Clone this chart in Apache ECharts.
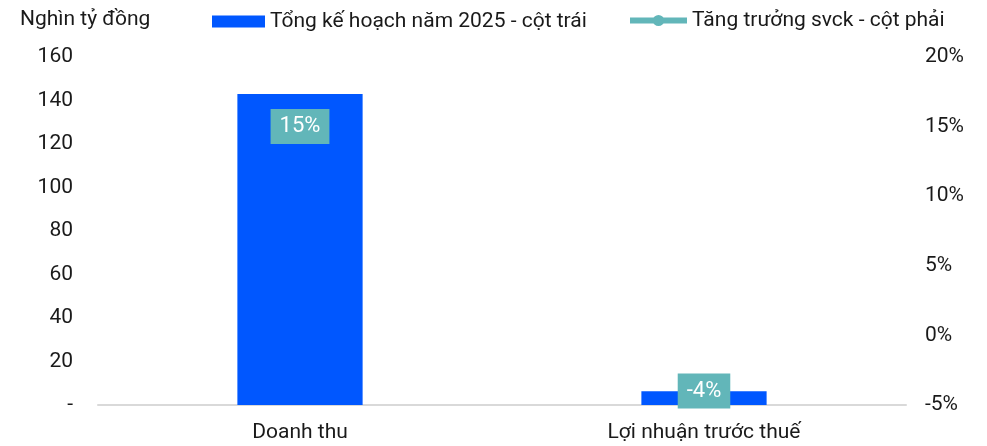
<!DOCTYPE html>
<html>
<head>
<meta charset="utf-8">
<script src="https://cdn.jsdelivr.net/npm/echarts@6/dist/echarts.min.js"></script>
<style>
  html, body { margin: 0; padding: 0; background: #fff; }
  #chart { width: 987px; height: 446px; }
</style>
</head>
<body>
<div id="chart"></div>
<script>
// data
const categories = ["Doanh thu", "Lợi nhuận trước thuế"];
const planValues = [143, 6.3];      // nghìn tỷ đồng
const growthValues = [15, -4];      // %
const barName = "Tổng kế hoạch năm 2025 - cột trái";
const lineName = "Tăng trưởng svck - cột phải";

const barColor = "#0057FF";
const lineColor = "#62B6B9";
const textColor = "#1a1a1a";
const font = "Roboto, 'Noto Sans', sans-serif";

const chart = echarts.init(document.getElementById("chart"), null, { renderer: "canvas" });

const option = {
  animation: false,
  textStyle: { fontFamily: font },
  title: {
    text: "Nghìn tỷ đồng",
    left: 15,
    top: 4,
    textStyle: { fontSize: 21, fontWeight: "normal", color: textColor, fontFamily: font }
  },
  legend: [
    {
      data: [{ name: barName, icon: "rect" }],
      left: 212,
      top: 11,
      padding: 0,
      itemWidth: 53,
      itemHeight: 12,
      textStyle: { fontSize: 21, color: textColor, fontFamily: font }
    },
    {
      data: [{
        name: lineName,
        itemStyle: { opacity: 1, color: lineColor },
        lineStyle: { opacity: 1, width: 6, color: lineColor }
      }],
      left: 627,
      top: 10,
      padding: 0,
      itemWidth: 57,
      itemHeight: 14,
      textStyle: { fontSize: 21, color: textColor, fontFamily: font }
    }
  ],
  grid: { left: 98, right: 81, top: 57, bottom: 41 },
  xAxis: {
    type: "category",
    data: categories,
    axisLine: { lineStyle: { color: "#d9d9d9", width: 2 } },
    axisTick: { show: false },
    axisLabel: { fontSize: 21, color: textColor, margin: 17, fontFamily: font }
  },
  yAxis: [
    {
      type: "value",
      min: 0,
      max: 160,
      interval: 20,
      splitLine: { show: false },
      axisLine: { show: false },
      axisTick: { show: false },
      axisLabel: {
        fontSize: 21,
        color: textColor,
        margin: 25,
        fontFamily: font,
        formatter: v => (v === 0 ? "-" : v)
      }
    },
    {
      type: "value",
      min: -5,
      max: 20,
      interval: 5,
      splitLine: { show: false },
      axisLine: { show: false },
      axisTick: { show: false },
      axisLabel: {
        fontSize: 21,
        color: textColor,
        margin: 19,
        fontFamily: font,
        formatter: v => v + "%"
      }
    }
  ],
  series: [
    {
      name: barName,
      type: "bar",
      data: planValues,
      barWidth: "31%",
      itemStyle: { color: barColor }
    },
    {
      name: lineName,
      type: "line",
      yAxisIndex: 1,
      data: growthValues,
      symbol: "circle",
      symbolSize: 1,
      itemStyle: { color: "rgba(0,0,0,0)" },
      lineStyle: { color: lineColor, width: 3, opacity: 0 },
      label: {
        show: true,
        position: "inside",
        formatter: p => p.value + "%",
        color: "#fff",
        fontSize: 22,
        fontFamily: font,
        backgroundColor: lineColor,
        padding: [7, 9, 6, 9]
      },
      z: 5
    }
  ]
};

chart.setOption(option);
</script>
</body>
</html>
